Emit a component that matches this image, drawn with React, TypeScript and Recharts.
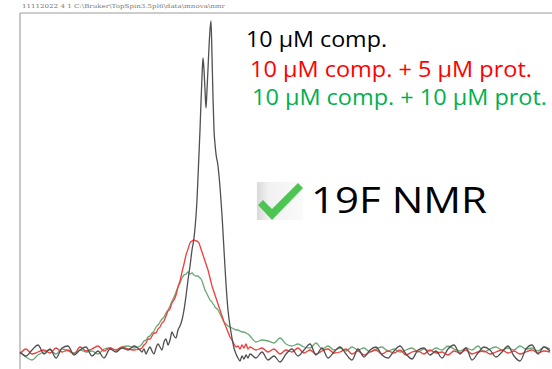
import React from 'react';
import { LineChart, Line, XAxis, YAxis, ReferenceLine } from 'recharts';

// chemical shift axis in points (left edge of the frame = 0)
const shift = [
  0, 6, 12, 18, 24, 30, 36, 42, 48, 54, 60, 66, 72, 78, 84, 90, 96, 102, 108, 114, 120,
  122, 124, 126, 128, 130, 132, 134, 136, 138, 140, 142, 144, 146, 148, 150, 152, 154, 156, 158, 160,
  162, 164, 166, 168, 170, 172, 174, 176,
  177, 178, 179, 180, 181, 182, 183, 184, 185, 186, 187, 188, 189, 190, 191, 192, 193, 194, 195, 196,
  198, 200, 202, 204, 206, 208, 210, 212, 214, 216, 218, 220, 222, 224, 226, 228, 230,
  236, 242, 248, 254, 260, 266, 272, 278, 284, 290, 296, 302, 308, 314, 320, 326, 332, 338, 344, 350,
  356, 362, 368, 374, 380, 386, 392, 398, 404, 410, 416, 422, 428, 434, 440, 446, 452, 458, 464, 470,
  476, 482, 488, 494, 500, 506, 512, 518, 524, 530,
];

// 10 µM comp.
const compOnly = [
  0, -4, 2, 7, -2, 3, -6, 4, 6, -3, 2, 5, -4, 1, -6, 3, 0, 4, 2, 6, 2,
  0, 3, -2, 2, 5, 1, -2, 4, 8, 5, 2, 10, 13, 7, 12, 20, 16, 14, 22, 26,
  32, 42, 56, 72, 86, 102, 114, 136,
  152, 175, 198, 222, 250, 275, 294, 282, 262, 244, 262, 283, 305, 322, 331, 296, 255, 222, 208, 198,
  186, 165, 137, 102, 68, 42, 26, 14, 4, -2, -6, -9, -4, -7, -3, -6, -2,
  -6, 0, -8, -4, -10, -2, 3, -4, 2, 8, -3, 4, -6, 0, 5, -2, -8, 3, -5, 2,
  5, -3, -6, 1, 6, -2, -7, 2, 4, -3, 1, -6, 3, 7, -2, 4, -8, -1, 5, 2,
  -5, 0, 6, -4, -9, 3, 7, -2, 5, 1,
];

// 10 µM comp. + 5 µM prot.
const compProt5 = [
  -2, 3, -2, 0, 2, -1, 4, 0, 2, -2, 5, 1, 3, 6, 1, 4, 2, 5, 3, 2, 3,
  4, 7, 9, 13, 13, 16, 19, 19, 23, 25, 29, 31, 36, 41, 43, 49, 52, 57, 65, 71,
  80, 88, 97, 103, 109, 111, 112, 111,
  111, 110, 109, 106, 103, 100, 97, 94, 91, 88, 85, 82, 78, 74, 70, 66, 63, 60, 57, 54,
  48, 42, 36, 30, 25, 20, 15, 12, 8, 5, 6, 3, 7, 4, 8, 3, 5,
  2, 4, 0, 3, -2, 2, 0, 4, -1, 2, -2, 1, 3, -1, 0, 3, -2, 1, -3, 0,
  2, -2, 1, -1, 2, -3, 0, 1, -2, 2, -1, 0, -3, 1, -1, 2, -2, 0, 1, -2,
  0, 2, -1, 1, -2, 0, 2, -1, 1, 0,
];

// 10 µM comp. + 10 µM prot.
const compProt10 = [
  0, -5, -8, -3, 0, 2, -2, 3, 1, -1, 2, 0, 1, -2, 3, 4, 2, 5, 6, 4, 6,
  8, 11, 12, 15, 16, 19, 21, 25, 27, 30, 33, 35, 39, 42, 46, 51, 55, 60, 65, 69,
  74, 77, 78, 80, 78, 79, 77, 76,
  76, 76, 75, 74, 73, 71, 68, 65, 62, 60, 58, 56, 54, 52, 51, 50, 48, 47, 45, 44,
  42, 38, 34, 30, 28, 26, 25, 24, 23, 22, 22, 21, 20, 20, 19, 18, 16,
  10, 12, 11, 9, 14, 8, 6, 8, 5, 4, 9, 3, 6, 2, 4, 1, 5, 2, 4, 0,
  3, 5, 1, 3, 0, 2, 4, 0, 3, 1, 4, 2, 6, 3, 1, 4, 2, 6, 0, 3,
  5, 2, 4, 2, 6, 3, 4, 1, 5, 3,
];

const data = shift.map((x, i) => ({
  x,
  comp: compOnly[i],
  prot5: compProt5[i],
  prot10: compProt10[i],
}));

const FONT = '"Open Sans", "Noto Sans", sans-serif';

export default function App() {
  return (
    <div style={{ position: 'absolute', left: 0, top: 0, width: 552, height: 369, background: '#fff' }}>
      <LineChart width={552} height={369} data={data} margin={{ top: 13, right: 0, left: 20, bottom: 0 }}>
        <XAxis type="number" dataKey="x" domain={[0, 532]} hide />
        <YAxis type="number" domain={[-17, 339]} hide allowDataOverflow />
        <ReferenceLine x={0} stroke="#c8c8c8" strokeWidth={2} />
        <ReferenceLine y={339} stroke="#9a9a9a" strokeWidth={1} />
        <Line type="monotone" dataKey="prot10" stroke="#6aa877" strokeWidth={1.3} dot={false} isAnimationActive={false} />
        <Line type="monotone" dataKey="prot5" stroke="#f23b3b" strokeWidth={1.3} dot={false} isAnimationActive={false} />
        <Line type="monotone" dataKey="comp" stroke="#505050" strokeWidth={1.3} dot={false} isAnimationActive={false} />
      </LineChart>
      <svg width={552} height={369} style={{ position: 'absolute', left: 0, top: 0, pointerEvents: 'none' }}>
        <defs>
          <linearGradient id="boxShade" x1="0" y1="0" x2="1" y2="0">
            <stop offset="0" stopColor="#d9d9d9" />
            <stop offset="0.25" stopColor="#f1f1f1" />
            <stop offset="1" stopColor="#fafafa" />
          </linearGradient>
        </defs>
        <text x={22} y={8} fontSize={5.5} fill="#777" fontFamily="DejaVu Serif, serif" textLength={203} lengthAdjust="spacingAndGlyphs">
          11112022  4  1  C:\Bruker\TopSpin3.5pl6\data\mnova\nmr
        </text>
        <text x={246} y={47} fontSize={22} fill="#000" fontFamily={FONT} textLength={141} lengthAdjust="spacingAndGlyphs">
          10 µM comp.
        </text>
        <text x={250} y={77} fontSize={22} fill="#ff0000" fontFamily={FONT} textLength={282} lengthAdjust="spacingAndGlyphs">
          10 µM comp. + 5 µM prot.
        </text>
        <text x={252} y={105} fontSize={22} fill="#00b050" fontFamily={FONT} textLength={295} lengthAdjust="spacingAndGlyphs">
          10 µM comp. + 10 µM prot.
        </text>
        <rect x={257} y={182} width={46} height={38} fill="url(#boxShade)" />
        <polygon points="258,205 263,200 272,209 298,183 303,188 272,220" fill="#4cc552" />
        <text x={311} y={213} fontSize={36} fill="#000" fontFamily={FONT} textLength={176} lengthAdjust="spacingAndGlyphs">
          19F NMR
        </text>
      </svg>
    </div>
  );
}
